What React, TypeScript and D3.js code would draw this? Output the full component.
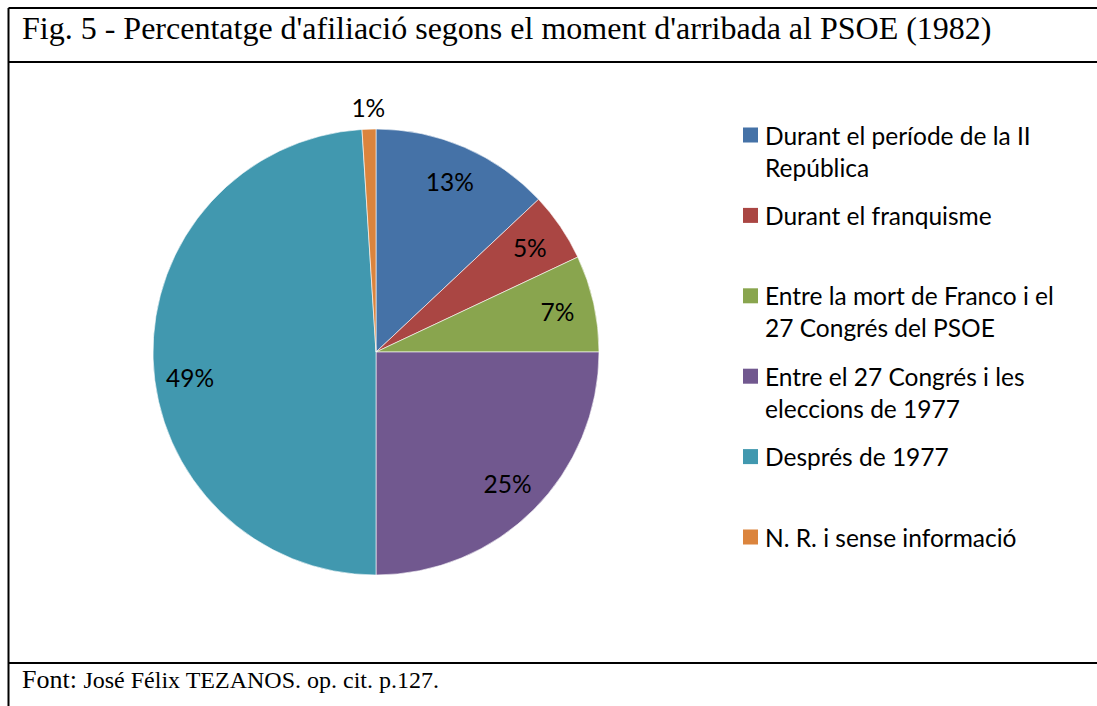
import React from 'react';
import * as d3 from 'd3';

const categories = [
  'Durant el període de la II República',
  'Durant el franquisme',
  'Entre la mort de Franco i el 27 Congrés del PSOE',
  'Entre el 27 Congrés i les eleccions de 1977',
  'Després de 1977',
  'N. R. i sense informació',
];
const legendLines = [
  ['Durant el període de la II', 'República'],
  ['Durant el franquisme'],
  ['Entre la mort de Franco i el', '27 Congrés del PSOE'],
  ['Entre el 27 Congrés i les', 'eleccions de 1977'],
  ['Després de 1977'],
  ['N. R. i sense informació'],
];
const values = [13, 5, 7, 25, 49, 1];
const colors = ['#4572A7', '#AA4643', '#89A54E', '#71588F', '#4198AF', '#DB843D'];

const W = 1097;
const H = 706;

const App = () => {
  const cx = 376;
  const cy = 352;
  const r = 223;

  const pie = d3.pie<number>().sort(null).value(d => d);
  const arcs = pie(values);
  const arc = d3.arc<d3.PieArcDatum<number>>().innerRadius(0).outerRadius(r);
  const labelArc = d3.arc<d3.PieArcDatum<number>>().innerRadius(186).outerRadius(186);
  const outerArc = d3.arc<d3.PieArcDatum<number>>().innerRadius(245).outerRadius(245);
  // Excel's best-fit pushes the big slice's label down a bit
  const labelNudge = (a: d3.PieArcDatum<number>) => (a.data / d3.sum(values) > 0.4 ? 20 : 0);

  const total = d3.sum(values);

  // legend rows: y centre of each entry's square
  const legendY = d3.scalePoint<number>().domain(d3.range(categories.length)).range([135, 537]);

  const labelFont = 'Lato, "Open Sans", sans-serif';
  const fs = 24.5;

  return (
    <svg width={W} height={H} style={{ position: 'absolute', left: 0, top: 0, background: '#fff' }}>
      {/* frame */}
      <g stroke="#000" strokeWidth={2} fill="none">
        <line x1={8.5} y1={8} x2={8.5} y2={H} />
        <line x1={8.5} y1={8} x2={W} y2={8} />
        <line x1={8.5} y1={62} x2={W} y2={62} />
        <line x1={8.5} y1={663} x2={W} y2={663} />
      </g>

      <text x={22} y={39} fontFamily='"Liberation Serif", "Times New Roman", serif' fontSize={32} fill="#000">
        Fig. 5 - Percentatge d'afiliació segons el moment d'arribada al PSOE (1982)
      </text>

      <g transform={`translate(${cx},${cy})`}>
        {arcs.map((a, i) => (
          <path key={i} d={arc(a) ?? ''} fill={colors[i]} stroke="#fff" strokeWidth={0.6} />
        ))}
        {arcs.map((a, i) => {
          const small = a.data / total < 0.03;
          const [lx, ly] = small ? outerArc.centroid(a) : labelArc.centroid(a);
          return (
            <text key={i} x={lx} y={ly + labelNudge(a)} textAnchor="middle" dominantBaseline="central"
              fontFamily={labelFont} fontSize={fs} fill="#000">
              {`${Math.round((a.data / total) * 100)}%`}
            </text>
          );
        })}
      </g>

      <g>
        {legendLines.map((lines, i) => {
          const y = legendY(i) ?? 0;
          return (
            <g key={i}>
              <rect x={743} y={y - 7.5} width={15} height={15} fill={colors[i]} />
              {lines.map((t, j) => (
                <text key={j} x={765} y={y + j * 32} dominantBaseline="central"
                  fontFamily={labelFont} fontSize={fs} fill="#000">
                  {t}
                </text>
              ))}
            </g>
          );
        })}
      </g>

      <text x={22} y={688} fontFamily='"Liberation Serif", "Times New Roman", serif' fill="#000">
        <tspan fontSize={26}>Font: </tspan>
        <tspan fontSize={24}>José Félix TEZANOS. op. cit. p.127.</tspan>
      </text>
    </svg>
  );
};

export default App;
